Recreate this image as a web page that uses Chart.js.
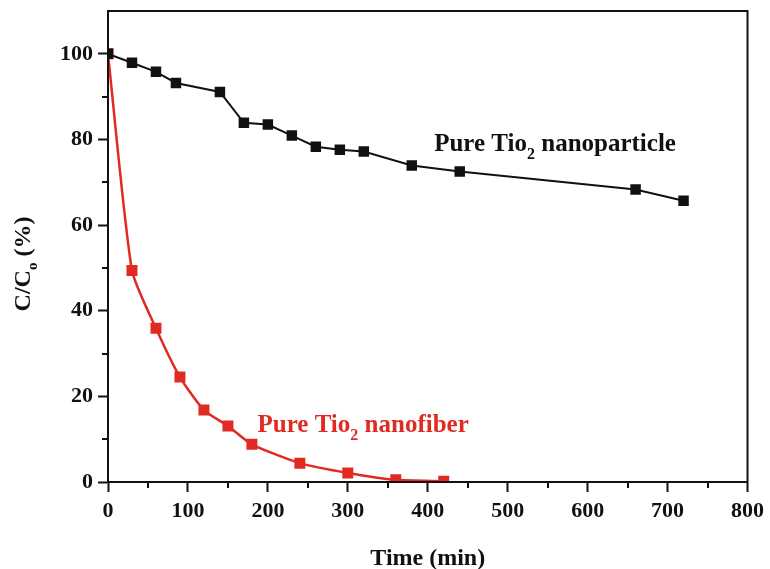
<!DOCTYPE html>
<html>
<head>
<meta charset="utf-8">
<script src="https://cdn.jsdelivr.net/npm/chart.js@4.4.1/dist/chart.umd.min.js"></script>
<style>
    html, body { margin: 0; padding: 0; background: #fff; }
    #wrap { width: 770px; height: 569px; }
</style>
</head>
<body>
<div id="wrap"><canvas id="degradationChart"></canvas></div>
<script>
// values
const particleTime = [0, 30, 60, 85, 140, 170, 200, 230, 260, 290, 320, 380, 440, 660, 720];
const particleC = [100, 97.9, 95.8, 93.2, 91.1, 83.9, 83.5, 80.9, 78.3, 77.6, 77.2, 73.9, 72.5, 68.3, 65.7];
const fiberTime = [0, 30, 60, 90, 120, 150, 180, 240, 300, 360, 420];
const fiberC = [100, 49.4, 35.9, 24.5, 16.8, 13.1, 8.8, 4.4, 2.1, 0.5, 0.2];
const xTicks = [0, 100, 200, 300, 400, 500, 600, 700, 800];
const yTicks = [0, 20, 40, 60, 80, 100];
const xMinor = [50, 150, 250, 350, 450, 550, 650, 750];
const yMinor = [10, 30, 50, 70, 90];

const FONT = "'Liberation Serif', 'Times New Roman', serif";
const RED = '#e02a22';

const toPoints = (xs, ys) => xs.map((x, i) => ({ x: x, y: ys[i] }));

// text with a subscript part: [[text, isSub], ...]
function drawParts(ctx, parts, x, y, size, color) {
    ctx.save();
    ctx.fillStyle = color;
    ctx.textBaseline = 'alphabetic';
    ctx.textAlign = 'left';
    let cx = x;
    parts.forEach(([txt, sub]) => {
        const fs = sub ? Math.round(size * 0.62) : size;
        ctx.font = `bold ${fs}px ${FONT}`;
        ctx.fillText(txt, cx, sub ? y + size * 0.3 : y);
        cx += ctx.measureText(txt).width;
    });
    ctx.restore();
    return cx - x;
}

function partsWidth(ctx, parts, size) {
    let w = 0;
    parts.forEach(([txt, sub]) => {
        ctx.font = `bold ${sub ? Math.round(size * 0.62) : size}px ${FONT}`;
        w += ctx.measureText(txt).width;
    });
    return w;
}

const framePlugin = {
    id: 'frame',
    afterDraw(chart) {
        const { ctx, chartArea: a, scales } = chart;
        ctx.save();
        ctx.strokeStyle = '#111';
        ctx.lineWidth = 2;
        ctx.strokeRect(a.left, a.top, a.right - a.left, a.bottom - a.top);

        // minor ticks
        ctx.beginPath();
        xMinor.forEach(v => {
            const px = Math.round(scales.x.getPixelForValue(v));
            ctx.moveTo(px, a.bottom);
            ctx.lineTo(px, a.bottom + 6);
        });
        yMinor.forEach(v => {
            const py = Math.round(scales.y.getPixelForValue(v));
            ctx.moveTo(a.left, py);
            ctx.lineTo(a.left - 6, py);
        });
        ctx.stroke();

        // y axis title, rotated
        const yParts = [['C/C', false], ['o', true], [' (%)', false]];
        const w = partsWidth(ctx, yParts, 24);
        ctx.translate(30, 264);
        ctx.rotate(-Math.PI / 2);
        drawParts(ctx, yParts, -w / 2, 0, 24, '#111');
        ctx.restore();

        // series labels
        const px = scales.x.getPixelForValue(408);
        const py = scales.y.getPixelForValue(77.3);
        drawParts(ctx, [['Pure Tio', false], ['2', true], [' nanoparticle', false]], px, py, 25, '#111');
        const fx = scales.x.getPixelForValue(187);
        const fy = scales.y.getPixelForValue(11.6);
        drawParts(ctx, [['Pure Tio', false], ['2', true], [' nanofiber', false]], fx, fy, 25, RED);
    }
};

new Chart(document.getElementById('degradationChart'), {
    type: 'scatter',
    data: {
        datasets: [{
            label: 'Pure Tio2 nanoparticle',
            data: toPoints(particleTime, particleC),
            showLine: true,
            borderColor: '#111',
            backgroundColor: '#111',
            borderWidth: 2,
            pointStyle: 'rect',
            pointRadius: 6,
            pointHoverRadius: 6
        }, {
            label: 'Pure Tio2 nanofiber',
            data: toPoints(fiberTime, fiberC),
            showLine: true,
            borderColor: RED,
            backgroundColor: RED,
            borderWidth: 2.5,
            tension: 0.2,
            pointStyle: 'rect',
            pointRadius: 6,
            pointHoverRadius: 6
        }]
    },
    options: {
        responsive: true,
        maintainAspectRatio: false,
        animation: false,
        devicePixelRatio: 1,
        layout: { padding: { top: 11, right: 22, left: 0, bottom: 0 } },
        plugins: {
            legend: { display: false },
            tooltip: { enabled: false }
        },
        scales: {
            x: {
                type: 'linear',
                min: 0,
                max: 800,
                afterBuildTicks: s => { s.ticks = xTicks.map(v => ({ value: v })); },
                afterFit: s => { s.height = 87; },
                border: { color: '#111', width: 2 },
                grid: { drawOnChartArea: false, drawTicks: true, tickLength: 10, tickWidth: 2, tickColor: '#111' },
                ticks: { color: '#111', padding: 6, maxRotation: 0, font: { family: FONT, size: 22, weight: 'bold' } },
                title: {
                    display: true,
                    text: 'Time (min)',
                    color: '#111',
                    padding: { top: 0, bottom: -4 },
                    font: { family: FONT, size: 24, weight: 'bold' }
                }
            },
            y: {
                min: 0,
                max: 110,
                afterBuildTicks: s => { s.ticks = yTicks.map(v => ({ value: v })); },
                afterFit: s => { s.width = 108; s.paddingTop = 0; s.paddingBottom = 0; },
                border: { color: '#111', width: 2 },
                grid: { drawOnChartArea: false, drawTicks: true, tickLength: 10, tickWidth: 2, tickColor: '#111' },
                ticks: { color: '#111', padding: 5, font: { family: FONT, size: 22, weight: 'bold' } }
            }
        }
    },
    plugins: [framePlugin]
});
</script>
</body>
</html>
